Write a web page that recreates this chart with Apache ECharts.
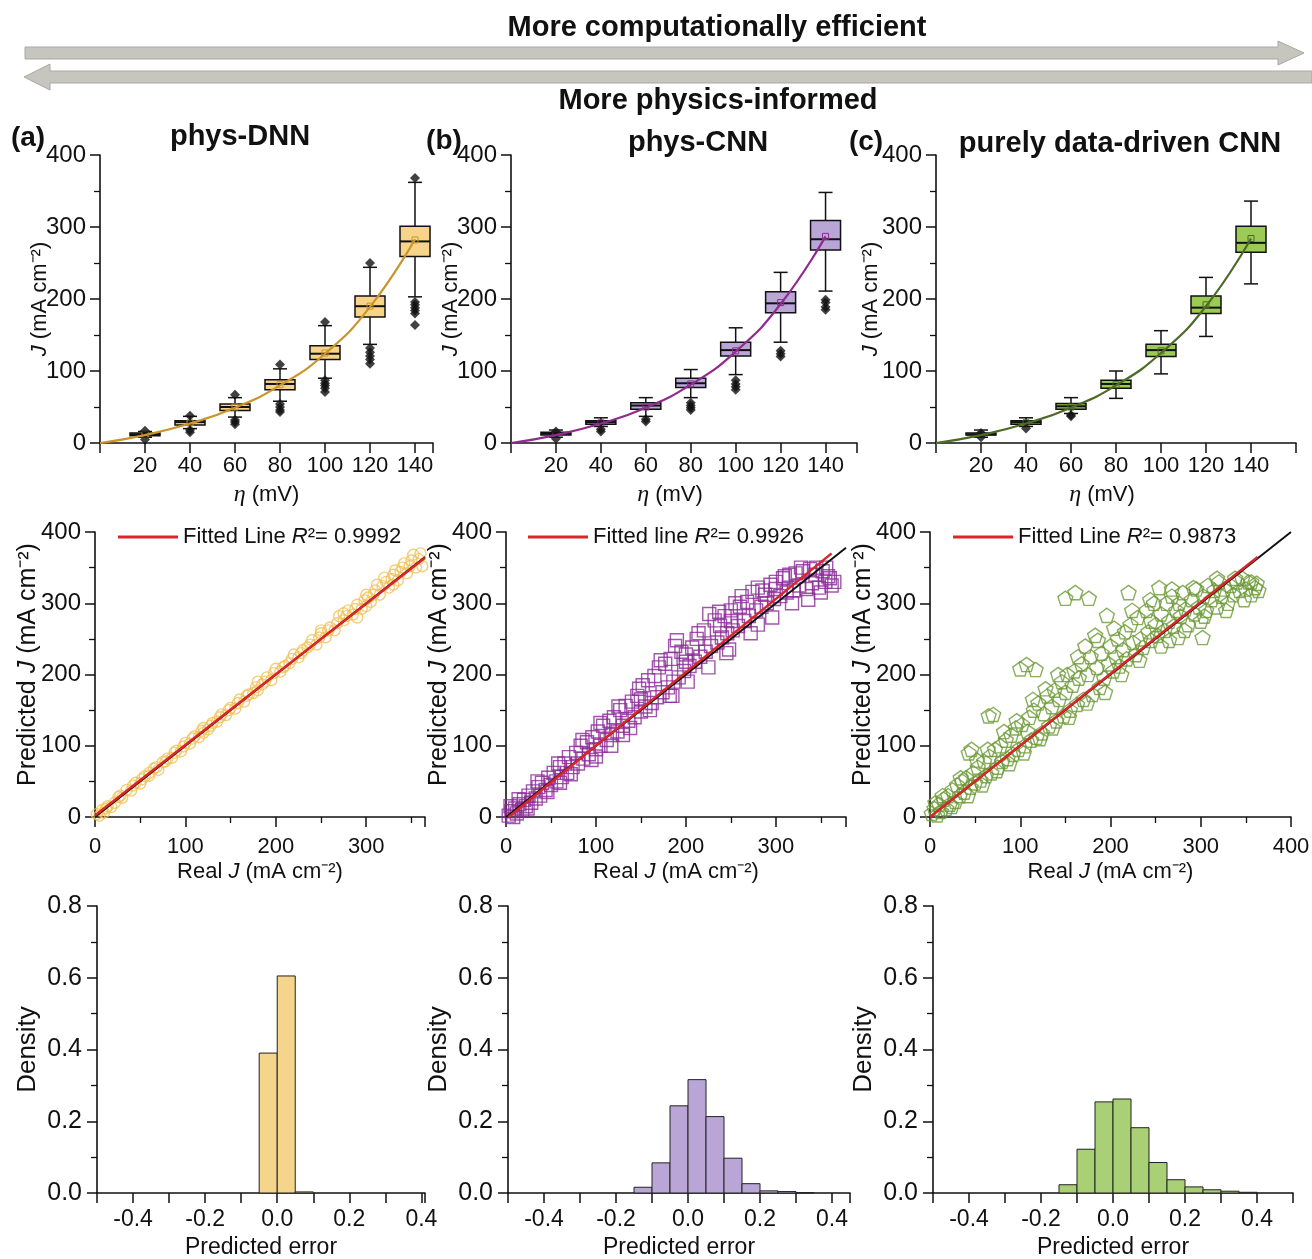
<!DOCTYPE html>
<html><head><meta charset="utf-8">
<script src="https://cdn.jsdelivr.net/npm/echarts@6/dist/echarts.min.js"></script>
<style>html,body{margin:0;padding:0;background:#fff}#c{width:1312px;height:1259px}</style>
</head><body><div id="c"></div>
<script>
// ---------------- DATA ----------------
const etaValues = [20, 40, 60, 80, 100, 120, 140];
// box stats per eta: [whiskerLow, Q1, median, Q3, whiskerHigh, mean]
const boxA = [[8,10,12,14,16,12],[20,25,29,31,37,28],[36,45,50,54,63,50],[58,74,82,88,103,81],[90,116,124,135,163,125],[137,175,190,204,244,190],[203,259,280,301,362,282]];
const boxB = [[8,11,13,15,18,12],[23,26,29,31,35,28],[37,47,52,56,63,50],[63,77,83,90,102,82],[95,121,129,140,160,128],[140,181,194,210,237,195],[211,268,283,309,348,287]];
const boxC = [[8,11,12,14,18,12],[23,26,29,31,35,28],[41,47,51,55,63,50],[62,76,82,87,100,81],[96,120,129,137,156,128],[148,180,188,204,230,192],[221,265,278,301,336,284]];
const outliersA = [[20,5],[20,17],[40,15],[40,18],[40,38],[60,26],[60,29],[60,32],[60,67],[80,43],[80,46],[80,50],[80,54],[80,109],[100,71],[100,76],[100,80],[100,83],[100,87],[100,168],[120,110],[120,116],[120,121],[120,126],[120,132],[120,250],[140,164],[140,180],[140,184],[140,188],[140,192],[140,196],[140,368]];
const outliersB = [[20,6],[20,16],[40,16],[40,19],[60,30],[60,33],[80,46],[80,49],[80,52],[80,56],[100,74],[100,78],[100,82],[100,87],[120,120],[120,124],[120,128],[140,185],[140,189],[140,195],[140,199]];
const outliersC = [[20,8],[20,14],[40,20],[60,37],[60,39]];
const curveA = [[0,0],[20,11],[40,27],[60,49],[80,80],[100,124],[120,189],[140,283]];
const curveB = [[0,0],[20,11],[40,27],[60,49],[80,81],[100,127],[120,193],[140,287]];
const curveC = [[0,0],[20,11],[40,27],[60,49],[80,80],[100,125],[120,190],[140,284]];

const scatterA = [[2,4],[5,2],[8,10],[10,6],[14,15],[18,14],[22,20],[26,28],[30,27],[35,38],[40,37],[45,48],[50,47],[55,57],[60,58],[65,68],[70,66],[75,77],[80,82],[85,83],[90,93],[95,92],[100,104],[105,103],[110,113],[115,112],[120,125],[125,123],[130,132],[135,134],[140,144],[145,143],[150,153],[155,152],[160,165],[165,162],[170,172],[175,174],[180,190],[185,186],[190,196],[195,192],[200,208],[205,204],[210,212],[215,216],[220,228],[225,224],[230,234],[235,238],[240,248],[245,242],[250,258],[255,252],[260,266],[265,262],[270,282],[275,276],[280,290],[285,284],[290,298],[295,292],[300,312],[305,302],[310,318],[315,312],[320,336],[325,322],[330,340],[335,332],[340,350],[345,342],[350,360],[355,350],[360,370],[362,352],[290,280],[300,296],[250,262],[180,178],[120,118],[60,62],[330,326],[275,286],
  [12,12],[28,30],[42,44],[52,53],[68,70],[78,78],[88,90],[98,99],[108,110],[118,121],[128,128],[138,140],[148,150],[158,160],[168,170],[178,182],[188,190],[198,202],[208,210],[218,222],[228,230],[238,242],[248,252],[258,262],[268,272],[278,282],[288,292],[298,304],[308,312],[318,324],[328,334],[338,344],[348,352],[358,362],[352,368],[342,356],[332,346],[322,330],[312,326],[302,308]];
const scatterB = [[3,2],[6,8],[8,0],[10,12],[12,5],[15,18],[18,10],[20,24],[22,15],[25,30],[28,20],[30,36],[33,26],[36,42],[38,30],[40,48],[44,38],[47,55],[50,45],[53,62],[56,50],[60,70],[62,56],[65,75],[68,62],[70,84],[74,70],[78,90],[80,75],[83,100],[86,82],[90,105],[92,88],[96,112],[100,95],[102,120],[105,100],[108,128],[112,108],[115,135],[118,115],[120,140],[124,120],[127,150],[130,128],[133,156],[136,135],[140,162],[143,140],[146,170],[150,148],[152,185],[155,155],[158,192],[162,160],[165,198],[168,168],[170,210],[174,175],[177,215],[180,182],[183,222],[186,190],[188,240],[192,196],[195,232],[198,205],[200,228],[204,212],[207,238],[210,218],[212,250],[216,225],[220,262],[222,232],[226,285],[228,240],[232,276],[235,245],[238,268],[240,252],[243,282],[246,258],[250,290],[252,262],[255,300],[258,268],[262,310],[265,275],[268,302],[270,282],[274,316],[278,290],[280,322],[284,295],[288,312],[290,300],[294,326],[298,306],[300,330],[305,310],[308,335],[312,315],[315,340],[320,318],[322,342],[326,325],[330,345],[334,320],[338,348],[340,328],[345,350],[348,322],[352,345],[355,330],[358,338],[362,325],[185,170],[245,230],[280,270],[130,115],[100,85],[60,48],
  [5,15],[14,25],[24,12],[35,50],[46,35],[58,75],[72,60],[85,108],[95,80],[105,132],[117,100],[125,155],[138,125],[148,180],[160,150],[172,220],[182,170],[190,248],[202,190],[214,258],[225,210],[237,288],[248,235],[260,295],[272,258],[285,318],[296,280],[310,338],[318,300],[328,350],[336,305],[344,340],[350,315],[356,350],[360,335],[365,330],[150,165],[200,218],[250,275],[300,320]];
const scatterC = [[2,5],[5,12],[8,3],[10,18],[12,8],[15,25],[18,12],[20,30],[22,18],[25,38],[28,22],[30,45],[33,30],[36,50],[38,35],[40,55],[43,90],[46,95],[45,42],[48,62],[50,48],[53,70],[56,52],[60,78],[62,58],[65,142],[70,144],[66,85],[68,62],[72,95],[75,70],[78,100],[80,78],[84,108],[86,82],[90,115],[92,88],[95,125],[98,95],[100,208],[107,214],[117,207],[102,130],[105,100],[108,120],[110,140],[112,108],[115,150],[118,112],[120,160],[124,118],[126,145],[130,170],[132,128],[135,155],[138,178],[140,135],[143,165],[146,190],[150,307],[161,315],[176,307],[148,142],[150,175],[152,200],[155,150],[158,185],[160,205],[163,158],[165,195],[168,215],[170,165],[172,240],[175,200],[178,225],[180,172],[183,255],[185,210],[188,182],[190,230],[193,195],[196,283],[198,215],[200,240],[203,205],[206,225],[208,250],[210,212],[214,235],[216,260],[220,315],[218,222],[222,270],[225,245],[228,228],[230,280],[233,250],[236,238],[240,290],[242,260],[245,248],[248,300],[250,270],[254,322],[252,255],[256,285],[260,262],[262,300],[265,275],[268,310],[270,268],[273,290],[276,300],[278,282],[280,315],[283,292],[286,270],[290,305],[293,285],[295,320],[298,295],[300,275],[303,310],[306,290],[308,325],[312,305],[315,318],[318,295],[320,330],[323,310],[326,320],[330,300],[333,325],[336,312],[340,330],[343,318],[346,335],[350,320],[353,330],[356,312],[360,322],[362,328],[302,252],[275,252],[265,248],
  [6,20],[14,30],[24,15],[34,55],[42,30],[52,80],[58,45],[64,95],[74,65],[82,120],[88,75],[96,135],[104,90],[114,165],[122,110],[128,180],[136,125],[142,200],[154,140],[164,225],[174,160],[186,248],[194,175],[204,265],[212,200],[224,290],[232,220],[244,305],[256,240],[268,320],[282,262],[292,322],[304,282],[318,335],[328,290],[338,335],[348,305],[356,330],[364,318],[245,275]];
const fitA = [[0,2],[365,364]];
const fitB = [[3,0],[362,370]];
const fitC = [[0,0],[363,365]];
const idealA = [[0,0],[365,365]];
const idealB = [[0,0],[378,378]];
const idealC = [[0,0],[400,400]];
const r2Labels = ['Fitted Line {i|R}²= 0.9992', 'Fitted line {i|R}²= 0.9926', 'Fitted Line {i|R}²= 0.9873'];

const histEdgesA = [-0.05, 0, 0.05, 0.1];
const histDensA = [0.39, 0.605, 0.003];
const histEdgesB = [-0.15, -0.1, -0.05, 0, 0.05, 0.1, 0.15, 0.2, 0.25, 0.3, 0.35];
const histDensB = [0.016, 0.084, 0.243, 0.316, 0.213, 0.097, 0.026, 0.006, 0.004, 0.001];
const histEdgesC = [-0.15, -0.1, -0.05, 0, 0.05, 0.1, 0.15, 0.2, 0.25, 0.3, 0.35, 0.4];
const histDensC = [0.023, 0.122, 0.254, 0.262, 0.182, 0.085, 0.037, 0.017, 0.009, 0.005, 0.002];

// ---------------- STYLE ----------------
const F = '"Liberation Sans", Arial, Helvetica, sans-serif';
const INK = '#111';
const colA = {fill:'#f7d48a', curve:'#c9952b', pt:'#f0c257', hist:'#f5d48c'};
const colB = {fill:'#b9a6d6', curve:'#8e2c8e', pt:'#8b2b97', hist:'#b9a6d6'};
const colC = {fill:'#9ccb55', curve:'#4e6b26', pt:'#6b9a35', hist:'#aad076'};

function rich(sz) {
  return {
    i: {fontStyle:'italic', fontSize:sz, fontFamily:F, color:INK},
    e: {fontStyle:'italic', fontSize:sz + 2, fontFamily:'"Liberation Serif","DejaVu Serif",serif', color:INK}
  };
}
function nameStyle(sz, pad) {
  return {fontSize:sz, color:INK, fontFamily:F, rich:rich(sz), padding: pad || 0};
}
function baseAxis(extra) {
  return Object.assign({
    type:'value',
    axisLine:{show:true, onZero:false, lineStyle:{color:INK, width:1.6}},
    axisTick:{show:true, length:10, lineStyle:{color:INK, width:1.5}},
    minorTick:{show:false},
    splitLine:{show:false},
    axisLabel:{fontSize:24, color:INK, fontFamily:F, margin:14},
    nameLocation:'middle',
    nameMoveOverlap:false,
    nameTextStyle:nameStyle(22)
  }, extra);
}
const minor = {show:true, splitNumber:2, length:6, lineStyle:{color:INK, width:1.3}};

const grids = [
  {left:100, top:155, width:333, height:288},
  {left:511, top:155, width:346, height:288},
  {left:936, top:155, width:360, height:288},
  {left:95,  top:532, width:330, height:285},
  {left:506, top:532, width:340, height:285},
  {left:930, top:532, width:361, height:285},
  {left:97,  top:906, width:328, height:287},
  {left:508, top:906, width:342, height:287},
  {left:933, top:906, width:360, height:287}
].map(g => Object.assign({outerBoundsMode:'none', containLabel:false}, g));

const xAxes = [], yAxes = [];
const boxMax = [148, 154, 160];
const scMax = [365, 378, 400];
const hMax = [0.41, 0.45, 0.5];
for (let k = 0; k < 3; k++) {
  xAxes.push(baseAxis({gridIndex:k, min:0, max:boxMax[k], interval:20,
    axisLabel:{fontSize:22, color:INK, fontFamily:F, margin:12, formatter:v => (v > 0 && v <= 140 && v % 20 === 0) ? String(v) : ''},
    name:'{e|η} (mV)', nameGap:40,
    nameTextStyle:nameStyle(22, k === 0 ? 0 : [0,28,0,0])}));
  yAxes.push(baseAxis({gridIndex:k, min:0, max:400, interval:100, minorTick:minor,
    name:'{i|J} (mA cm⁻²)', nameGap: k === 2 ? 54 : 49}));
}
for (let k = 0; k < 3; k++) {
  xAxes.push(baseAxis({gridIndex:3+k, min:0, max:scMax[k], interval:100, minorTick:minor,
    axisLabel:{fontSize:22, color:INK, fontFamily:F, margin:19, formatter:v => v % 100 === 0 ? String(v) : ''},
    name:'Real {i|J} (mA cm⁻²)', nameGap:44}));
  yAxes.push(baseAxis({gridIndex:3+k, min:0, max:400, interval:100, minorTick:minor,
    name:'Predicted {i|J} (mA cm⁻²)', nameGap:54, nameTextStyle:nameStyle(25, [0,0,0,20])}));
}
function histLabel(v) {
  const k = Math.round(v * 10);
  if (Math.abs(v * 10 - k) > 1e-6 || k % 2 !== 0 || Math.abs(k) >= 5) return '';
  return (k / 10).toFixed(1);
}
for (let k = 0; k < 3; k++) {
  xAxes.push(baseAxis({gridIndex:6+k, min:-0.5, max:hMax[k], interval:0.1,
    axisLabel:{fontSize:23, color:INK, fontFamily:F, margin:15, formatter:histLabel},
    name:'Predicted error', nameGap:43, nameTextStyle:nameStyle(23)}));
  yAxes.push(baseAxis({gridIndex:6+k, min:0, max:0.8, interval:0.2, minorTick:minor,
    axisLabel:{fontSize:25, color:INK, fontFamily:F, margin:15, formatter:v => v.toFixed(1)},
    name:'Density', nameGap:56, nameTextStyle:nameStyle(26)}));
}

function boxRender(fill, meanColor) {
  return function (params, api) {
    const x = api.value(0);
    const p = v => api.coord([x, v]);
    const lo = p(api.value(1)), q1 = p(api.value(2)), md = p(api.value(3)),
          q3 = p(api.value(4)), hi = p(api.value(5)), mn = p(api.value(6));
    const cx = lo[0], hw = 15, cw = 7;
    const ls = {stroke:INK, lineWidth:1.5};
    return {type:'group', children:[
      {type:'line', shape:{x1:cx, y1:q1[1], x2:cx, y2:lo[1]}, style:ls},
      {type:'line', shape:{x1:cx, y1:q3[1], x2:cx, y2:hi[1]}, style:ls},
      {type:'line', shape:{x1:cx-cw, y1:lo[1], x2:cx+cw, y2:lo[1]}, style:ls},
      {type:'line', shape:{x1:cx-cw, y1:hi[1], x2:cx+cw, y2:hi[1]}, style:ls},
      {type:'rect', shape:{x:cx-hw, y:q3[1], width:2*hw, height:q1[1]-q3[1]}, style:{fill:fill, stroke:INK, lineWidth:1.5}},
      {type:'line', shape:{x1:cx-hw, y1:md[1], x2:cx+hw, y2:md[1]}, style:{stroke:INK, lineWidth:2}},
      {type:'rect', shape:{x:mn[0]-3, y:mn[1]-3, width:6, height:6}, style:{fill:'none', stroke:meanColor, lineWidth:1}}
    ]};
  };
}
function histRender(fill) {
  return function (params, api) {
    const a = api.coord([api.value(0), api.value(2)]);
    const b = api.coord([api.value(1), 0]);
    return {type:'rect', shape:{x:a[0], y:a[1], width:b[0]-a[0], height:b[1]-a[1]},
      style:{fill:fill, stroke:'#222', lineWidth:1}};
  };
}
function histData(edges, dens) { return dens.map((d, i) => [edges[i], edges[i+1], d]); }

const series = [];
const boxes = [boxA, boxB, boxC], outs = [outliersA, outliersB, outliersC], curves = [curveA, curveB, curveC];
const cols = [colA, colB, colC];
const scat = [scatterA, scatterB, scatterC];
const fits = [fitA, fitB, fitC], ideals = [idealA, idealB, idealC];
const hists = [histData(histEdgesA, histDensA), histData(histEdgesB, histDensB), histData(histEdgesC, histDensC)];
const pentagon = 'path://M50,0 L97.55,34.55 L79.39,90.45 L20.61,90.45 L2.45,34.55 Z';
const symbols = [['circle', 11], ['rect', 13], [pentagon, 15]];
const fitNames = ['fitA', 'fitB', 'fitC'];

for (let k = 0; k < 3; k++) {
  series.push({type:'custom', xAxisIndex:k, yAxisIndex:k, z:2,
    data: etaValues.map((x, i) => [x].concat(boxes[k][i])),
    encode:{x:0, y:[1,2,3,4,5,6]},
    renderItem: boxRender(cols[k].fill, cols[k].curve)});
  series.push({type:'scatter', xAxisIndex:k, yAxisIndex:k, z:3, symbol:'diamond', symbolSize:10,
    itemStyle:{color:INK}, data: outs[k]});
  series.push({type:'line', xAxisIndex:k, yAxisIndex:k, z:4, data: curves[k], symbol:'none',
    smooth:0.5, lineStyle:{color:cols[k].curve, width:2.2}});

  series.push({type:'scatter', xAxisIndex:3+k, yAxisIndex:3+k, z:2, data: scat[k],
    symbol: symbols[k][0], symbolSize: symbols[k][1], symbolKeepAspect:true,
    itemStyle:{color:'rgba(0,0,0,0)', borderColor:cols[k].pt, borderWidth:1.4}});
  series.push({type:'line', xAxisIndex:3+k, yAxisIndex:3+k, z:3, data: ideals[k], symbol:'none',
    lineStyle:{color:INK, width:2}});
  series.push({name: fitNames[k], type:'line', xAxisIndex:3+k, yAxisIndex:3+k, z:4, data: fits[k], symbol:'none',
    lineStyle:{color:'#d8262b', width:2.5}, itemStyle:{color:'#d8262b'}});

  series.push({type:'custom', xAxisIndex:6+k, yAxisIndex:6+k, z:2, data: hists[k],
    encode:{x:[0,1], y:2}, renderItem: histRender(cols[k].hist)});
}

const legendLeft = [118, 528, 953];
const legends = fitNames.map((n, k) => ({
  data:[{name:n, icon:'rect'}], left: legendLeft[k], top: 526, padding:0, itemWidth:60, itemHeight:3,
  itemGap: 6, selectedMode:false,
  formatter: () => r2Labels[k],
  textStyle:{fontSize:22, color:INK, fontFamily:F, rich:{i:{fontStyle:'italic', fontSize:22, fontFamily:F, color:INK}}}
}));

function txt(x, y, s, size, bold) {
  return {type:'text', x:x, y:y, z:100, style:{text:s, fill:INK, align:'center', verticalAlign:'middle',
    font:(bold ? 'bold ' : '') + size + 'px ' + F}};
}
const arrowStyle = {fill:'#c6c6be', stroke:'#a9a9a2', lineWidth:1};
const graphic = [
  {type:'polygon', z:50, shape:{points:[[25,47],[1278,47],[1278,41],[1304,53],[1278,65],[1278,59],[25,59]]}, style:arrowStyle},
  {type:'polygon', z:50, shape:{points:[[1312,71],[50,71],[50,64],[24,77],[50,90],[50,83],[1312,83]]}, style:arrowStyle},
  txt(717, 28, 'More computationally efficient', 29, true),
  txt(718, 101, 'More physics-informed', 29, true),
  txt(28, 138, '(a)', 28, true),
  txt(240, 137, 'phys-DNN', 29, true),
  txt(444, 141, '(b)', 28, true),
  txt(698, 143, 'phys-CNN', 29, true),
  txt(866, 142, '(c)', 28, true),
  txt(1120, 144, 'purely data-driven CNN', 29, true)
];

const chart = echarts.init(document.getElementById('c'), null, {renderer:'canvas'});
chart.setOption({
  animation:false,
  backgroundColor:'#fff',
  textStyle:{fontFamily:F},
  grid: grids, xAxis: xAxes, yAxis: yAxes,
  legend: legends,
  graphic: graphic,
  series: series
});
</script></body></html>
